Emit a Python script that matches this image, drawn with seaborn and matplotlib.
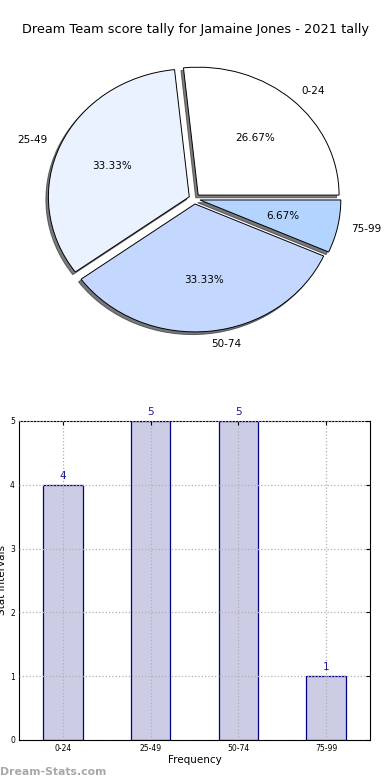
import seaborn as sns
import pandas as pd
from matplotlib import pyplot as plt

# score intervals and how many games fell in each
intervals = ["0-24", "25-49", "50-74", "75-99"]
counts = [4, 5, 5, 1]
pie_colors = ["#ffffff", "#eaf1ff", "#c4d8ff", "#b3d4ff"]

title = "Dream Team score tally for Jamaine Jones - 2021 tally"

sns.set_style("white")
plt.rcParams['font.family'] = ['DejaVu Sans']
plt.rcParams['text.color'] = 'black'
plt.rcParams['axes.labelcolor'] = 'black'
plt.rcParams['xtick.color'] = 'black'
plt.rcParams['ytick.color'] = 'black'

fig = plt.figure(figsize=(3.9, 7.8), dpi=100)
fig.suptitle(title, fontsize=9.3, y=0.971)

# Pie of the intervals
ax1 = fig.add_axes([0.047, 0.54, 0.903, 0.41])
ax1.pie(counts, labels=intervals, colors=pie_colors, autopct="%.2f%%",
        startangle=0, counterclock=True, explode=[0.04] * len(counts),
        shadow={"ox": -0.013, "oy": -0.015, "shade": 0.85, "alpha": 0.6},
        wedgeprops={"edgecolor": "black", "linewidth": 0.7},
        textprops={"fontsize": 7.5, "color": "black"})
ax1.set_aspect("auto")
ax1.set_xlim(-1.25, 1.25)
ax1.set_ylim(-1.25, 1.25)

# Bar chart of the same counts
data = pd.DataFrame({"interval": intervals, "count": counts})
ax2 = fig.add_axes([0.049, 0.0513, 0.9, 0.409])
sns.barplot(data=data, x="interval", y="count", ax=ax2, color="#ccccE5",
            edgecolor="#00008b", linewidth=0.9, width=0.45, saturation=1)
for i, c in enumerate(counts):
    ax2.text(i, c + 0.06, str(c), ha="center", va="bottom", fontsize=7.5, color="#1a1a9c")
ax2.set_xlim(-0.5, 3.5)
ax2.set_ylim(0, 5)
ax2.set_yticks(range(6))
ax2.grid(True, linestyle=":", color="#b0b0b0", linewidth=0.9)
ax2.set_axisbelow(False)
for s in ax2.spines.values():
    s.set_color("black")
    s.set_linewidth(0.8)
ax2.tick_params(labelsize=5.5, direction="in", length=3, top=True, right=True, pad=3)
ax2.set_xlabel("Frequency", fontsize=7.5, labelpad=1)
ax2.set_ylabel("Stat Intervals", fontsize=7.5, labelpad=2)

fig.text(0.0, 0.007, "Dream-Stats.com", fontsize=7.8, color="#a8a8a8", fontweight="bold")

fig.savefig("out.png", dpi=100)
